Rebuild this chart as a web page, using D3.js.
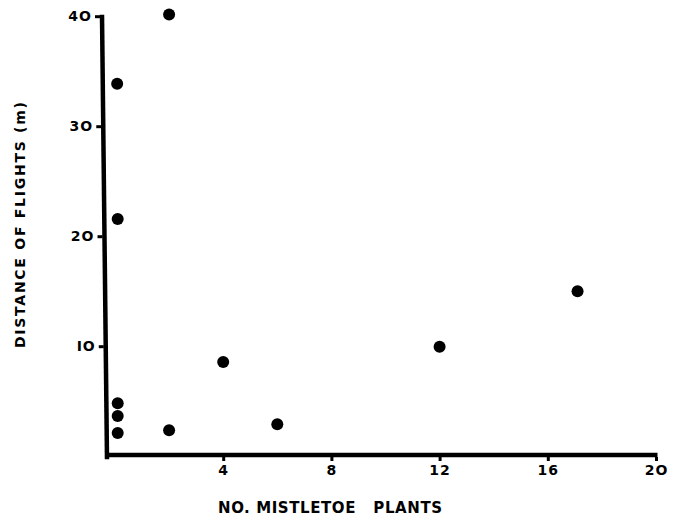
<!DOCTYPE html>
<html>
<head>
<meta charset="utf-8">
<script src="https://cdn.jsdelivr.net/npm/d3@7"></script>
<style>
  html, body { margin: 0; padding: 0; background: #fff; }
  svg { display: block; }
  text { font-family: "DejaVu Sans", sans-serif; fill: #000; }
</style>
</head>
<body>
<svg id="chart" width="675" height="518"></svg>
<script>
// ---- data ----
const mistletoePlants = [2, 0.08, 0.1, 4, 0.1, 0.1, 0.1, 2, 6, 12, 17.1];
const flightDistance  = [40.2, 33.9, 21.6, 8.6, 4.85, 3.7, 2.15, 2.4, 2.95, 10.0, 15.05];
const xTickValues = [4, 8, 12, 16, 20];
const xTickLabels = ["4", "8", "12", "16", "2O"];
const yTickValues = [10, 20, 30, 40];
const yTickLabels = ["IO", "2O", "3O", "4O"];
const xTitle = "NO. MISTLETOE   PLANTS";
const yTitle = "DISTANCE OF FLIGHTS (m)";

const points = mistletoePlants.map((v, i) => ({ x: v, y: flightDistance[i] }));

const svg = d3.select("#chart");

const x = d3.scaleLinear().domain([0, 20]).range([115, 656]);
const y = d3.scaleLinear().domain([0, 40]).range([456.7, 16.7]);

// slightly slanted hand-drawn y axis line
const axisTop = y(40) - 2;
const axisBottom = y(0) + 0.5;
const slantX = py => 102 + (py - axisTop) * (5 / (axisBottom - axisTop));

// y axis line
svg.append("line")
  .attr("x1", slantX(axisTop)).attr("y1", axisTop)
  .attr("x2", slantX(axisBottom)).attr("y2", axisBottom + 2)
  .attr("stroke", "#000").attr("stroke-width", 4.5);

// x axis line
const xAxisY = 455;
svg.append("line")
  .attr("x1", slantX(axisBottom) - 2).attr("y1", xAxisY)
  .attr("x2", x(20) + 1.5).attr("y2", xAxisY)
  .attr("stroke", "#000").attr("stroke-width", 4.5);

// x axis ticks
const gx = svg.append("g")
  .attr("transform", `translate(0,${xAxisY + 2})`)
  .call(d3.axisBottom(x).tickValues(xTickValues)
        .tickFormat((d, i) => xTickLabels[i]).tickSize(4).tickPadding(4));
gx.select(".domain").remove();
gx.selectAll(".tick line").attr("stroke-width", 3);
gx.selectAll(".tick text").style("font-size", "14px").style("font-weight", "bold")
  .style("letter-spacing", "1px");

// y axis ticks
const gy = svg.append("g")
  .call(d3.axisLeft(y).tickValues(yTickValues)
        .tickFormat((d, i) => yTickLabels[i]).tickSize(5).tickPadding(3));
gy.select(".domain").remove();
gy.selectAll(".tick")
  .attr("transform", d => `translate(${slantX(y(d)) - 2},${y(d)})`);
gy.selectAll(".tick line").attr("stroke-width", 3);
gy.selectAll(".tick text").style("font-size", "14px").style("font-weight", "bold")
  .style("letter-spacing", "1px");

// points
svg.append("g").selectAll("circle")
  .data(points).join("circle")
  .attr("cx", d => x(d.x))
  .attr("cy", d => y(d.y))
  .attr("r", 6)
  .attr("fill", "#000");

// axis titles
svg.append("text")
  .attr("x", 218).attr("y", 513)
  .attr("textLength", 224).attr("lengthAdjust", "spacing")
  .style("white-space", "pre")
  .style("font-size", "15px").style("font-weight", "bold")
  .text(xTitle);

svg.append("text")
  .attr("transform", "translate(25,348) rotate(-90)")
  .attr("textLength", 246).attr("lengthAdjust", "spacing")
  .style("font-size", "14px").style("font-weight", "bold")
  .text(yTitle);
</script>
</body>
</html>
